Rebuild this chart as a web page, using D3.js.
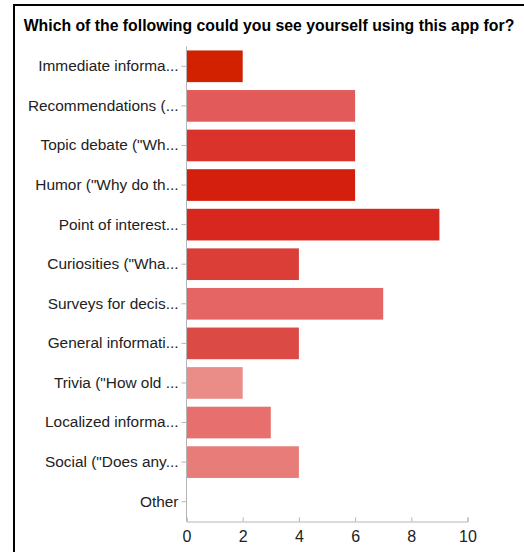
<!DOCTYPE html>
<html>
<head>
<meta charset="utf-8">
<script src="https://cdn.jsdelivr.net/npm/d3@7"></script>
<style>
  body { margin: 0; background: #fff; }
  svg { display: block; font-family: "Liberation Sans", Arial, sans-serif; }
</style>
</head>
<body>
<div class="barchart"></div>
<script>
var width = 524,
    height = 552;

var categories = [
  "Immediate informa...",
  "Recommendations (...",
  "Topic debate (\"Wh...",
  "Humor (\"Why do th...",
  "Point of interest...",
  "Curiosities (\"Wha...",
  "Surveys for decis...",
  "General informati...",
  "Trivia (\"How old ...",
  "Localized informa...",
  "Social (\"Does any...",
  "Other"
];
var counts = [2, 6, 6, 6, 9, 4, 7, 4, 2, 3, 4, 0];
var colors = ["#d12100", "#e25a59", "#da332c", "#d41e0e", "#d7271f", "#da3e37",
              "#e46564", "#dc4a45", "#ea8d89", "#e76f6d", "#e77c79", "#e77c79"];
var xTicks = [0, 2, 4, 6, 8, 10];

function barchart() {
  var svg = d3.select(".barchart").append("svg")
    .attr("width", width)
    .attr("height", height);

  // frame around the chart (only top and left edges are visible)
  svg.append("path")
    .attr("d", "M14," + height + "V5H" + width)
    .attr("fill", "none")
    .attr("stroke", "#000")
    .attr("stroke-width", 2);

  svg.append("text")
    .attr("x", 269)
    .attr("y", 31)
    .attr("text-anchor", "middle")
    .attr("font-size", 15.8)
    .attr("font-weight", "bold")
    .attr("fill", "#000")
    .text("Which of the following could you see yourself using this app for?");

  var x = d3.scaleLinear().domain([0, 10]).range([186.5, 467.5]);
  var y = d3.scaleBand().domain(categories).range([46.5, 521.5]).paddingInner(0.2).paddingOuter(0.1);

  svg.append("g")
    .selectAll("rect")
    .data(categories)
    .enter().append("rect")
      .attr("x", x(0))
      .attr("y", function(d) { return y(d); })
      .attr("width", function(d, i) { return x(counts[i]) - x(0); })
      .attr("height", y.bandwidth())
      .attr("fill", function(d, i) { return colors[i]; });

  var xAxis = svg.append("g")
    .attr("transform", "translate(0,521.5)")
    .call(d3.axisBottom(x).tickValues(xTicks).tickSize(-4).tickPadding(7));
  xAxis.select(".domain").attr("stroke", "#b5b5b5");
  xAxis.selectAll(".tick line").attr("stroke", "#b5b5b5");
  xAxis.selectAll(".tick text")
    .attr("dy", "0.85em")
    .attr("font-size", 16)
    .attr("font-family", "Liberation Sans, Arial, sans-serif")
    .attr("fill", "#222");

  var yAxis = svg.append("g")
    .attr("transform", "translate(186.5,0)")
    .call(d3.axisLeft(y).tickSize(5).tickSizeOuter(0).tickPadding(3));
  yAxis.select(".domain").attr("stroke", "#b5b5b5").attr("d", "M0,46.5V521.5");
  yAxis.selectAll(".tick line").attr("stroke", "#b5b5b5");
  yAxis.selectAll(".tick text")
    .attr("font-size", 15.4)
    .attr("font-family", "Liberation Sans, Arial, sans-serif")
    .attr("fill", "#222");
}

barchart();
</script>
</body>
</html>
